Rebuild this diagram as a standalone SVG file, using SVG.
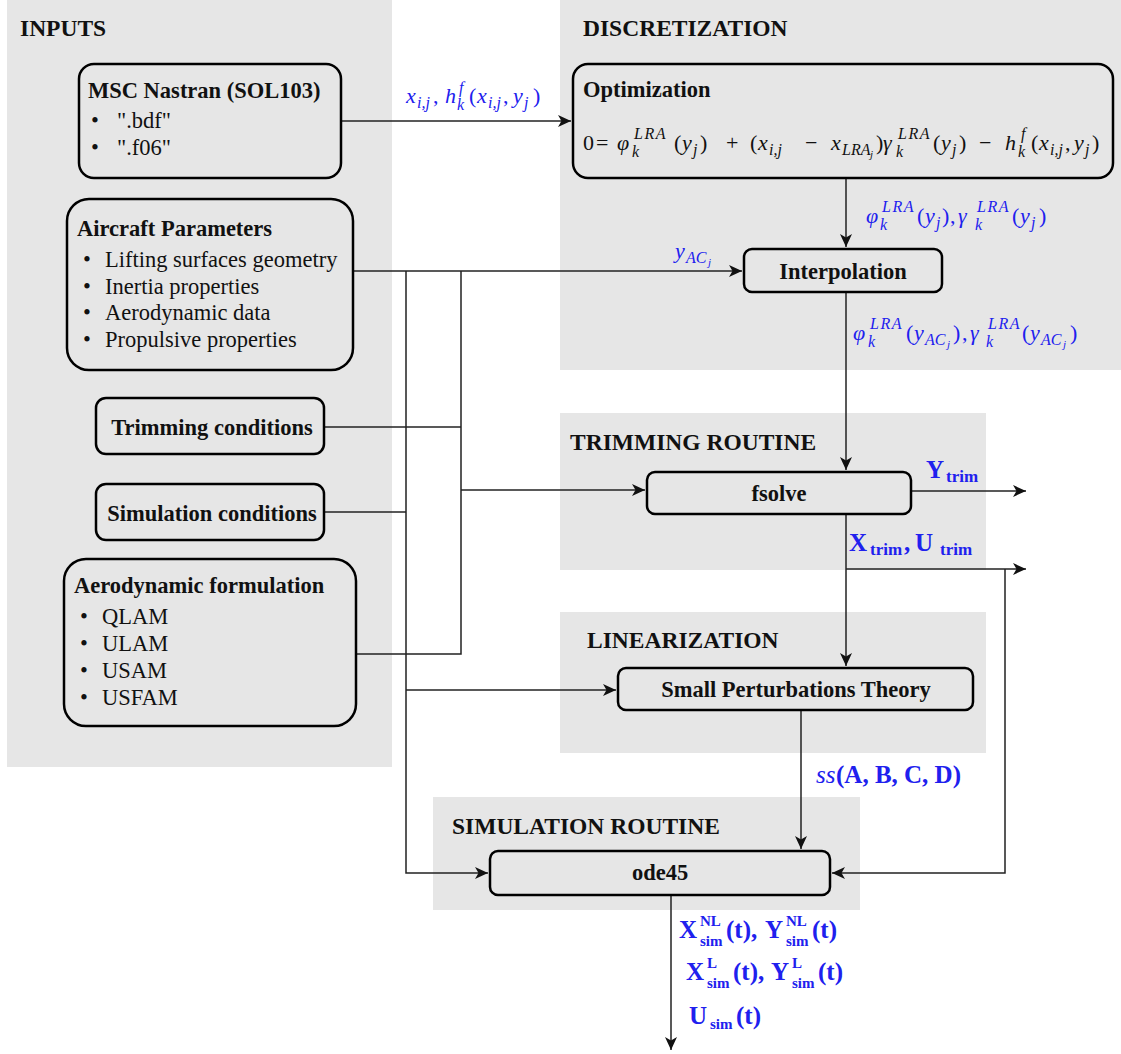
<svg xmlns="http://www.w3.org/2000/svg" width="1121" height="1054" viewBox="0 0 1121 1054">
<style>
.panel{fill:#e6e6e6}
.node{fill:#e6e6e6;stroke:#000;stroke-width:2.5}
.sec{font-family:"Liberation Serif",serif;font-weight:bold;font-size:23.5px;fill:#111}
.t{font-family:"Liberation Serif",serif;font-weight:bold;font-size:22.5px;fill:#111}
.b{font-family:"Liberation Serif",serif;font-size:22.5px;fill:#111}
.m{font-family:"Liberation Serif",serif;font-size:22px;fill:#111}
.bl{fill:#2020ee}
.i{font-style:italic}
.s{font-size:16px}
.ls{letter-spacing:1.5px}
.ss{font-size:11px}
.mb{font-family:"Liberation Serif",serif;font-weight:bold;font-size:25px;fill:#2020ee}
.mbs{font-size:17px}
.mbt{font-size:15px}
.c{fill:none;stroke:#222;stroke-width:1.5}
</style>
<defs>
<marker id="ah" markerUnits="userSpaceOnUse" markerWidth="14" markerHeight="12" refX="13" refY="6" orient="auto">
<path d="M0,0 L13,6 L0,12 L3.5,6 Z" fill="#111"/>
</marker>
</defs>
<g id="panels">
<rect class="panel" x="7" y="0" width="385" height="767"/>
<rect class="panel" x="560" y="0" width="561" height="370"/>
<rect class="panel" x="560" y="413" width="426" height="157"/>
<rect class="panel" x="560" y="612" width="426" height="141"/>
<rect class="panel" x="433" y="797" width="427" height="113"/>
<text class="sec" x="20" y="36">INPUTS</text>
<text class="sec" x="583" y="36">DISCRETIZATION</text>
<text class="sec" x="570" y="450">TRIMMING ROUTINE</text>
<text class="sec" x="587" y="648">LINEARIZATION</text>
<text class="sec" x="452" y="834">SIMULATION ROUTINE</text>
</g>
<g id="connectors">
<path class="c" d="M341,121 H571" marker-end="url(#ah)"/>
<path class="c" d="M846,178 V247" marker-end="url(#ah)"/>
<path class="c" d="M353,271 H742" marker-end="url(#ah)"/>
<path class="c" d="M846,292 V470" marker-end="url(#ah)"/>
<path class="c" d="M911,491 H1026" marker-end="url(#ah)"/>
<path class="c" d="M846,514 V666" marker-end="url(#ah)"/>
<path class="c" d="M846,569 H1026" marker-end="url(#ah)"/>
<path class="c" d="M1005,569 V873 H832" marker-end="url(#ah)"/>
<path class="c" d="M801,710 V849" marker-end="url(#ah)"/>
<path class="c" d="M671,895 V1050" marker-end="url(#ah)"/>
<path class="c" d="M406,271 V873 H488" marker-end="url(#ah)"/>
<path class="c" d="M461,271 V654 H356"/>
<path class="c" d="M324,427 H461"/>
<path class="c" d="M324,512 H406"/>
<path class="c" d="M461,490 H645" marker-end="url(#ah)"/>
<path class="c" d="M406,690 H616" marker-end="url(#ah)"/>
</g>
<g id="edge-labels">
<text class="m bl"><tspan class="i" x="406" y="103">x</tspan><tspan class="i s" x="417" y="108">i,j</tspan><tspan x="433" y="103">,</tspan><tspan class="i" x="445" y="103">h</tspan><tspan class="i s" x="459" y="93">f</tspan><tspan class="i s" x="457" y="110">k</tspan><tspan x="469" y="103">(</tspan><tspan class="i" x="477" y="103">x</tspan><tspan class="i s" x="488" y="108">i,j</tspan><tspan x="503" y="103">,</tspan><tspan class="i" x="513" y="103">y</tspan><tspan class="i s" x="524" y="108">j</tspan><tspan x="533" y="103">)</tspan></text>
<text class="m bl"><tspan class="i" x="866" y="223">φ</tspan><tspan class="i s ls" x="882" y="212">LRA</tspan><tspan class="i s" x="880" y="230">k</tspan><tspan x="917" y="223">(</tspan><tspan class="i" x="925" y="223">y</tspan><tspan class="i s" x="936" y="228">j</tspan><tspan x="942" y="223">)</tspan><tspan x="950" y="223">,</tspan><tspan class="i" x="958" y="223">γ</tspan><tspan class="i s ls" x="977" y="212">LRA</tspan><tspan class="i s" x="975" y="230">k</tspan><tspan x="1012" y="223">(</tspan><tspan class="i" x="1020" y="223">y</tspan><tspan class="i s" x="1031" y="228">j</tspan><tspan x="1039" y="223">)</tspan></text>
<text class="m bl"><tspan class="i" x="675" y="258">y</tspan><tspan class="i s" x="686" y="263">AC</tspan><tspan class="i ss" x="708" y="266">j</tspan></text>
<text class="m bl"><tspan class="i" x="853" y="340">φ</tspan><tspan class="i s ls" x="870" y="329">LRA</tspan><tspan class="i s" x="868" y="347">k</tspan><tspan x="906" y="340">(</tspan><tspan class="i" x="914" y="340">y</tspan><tspan class="i s" x="925" y="345">AC</tspan><tspan class="i ss" x="947" y="348">j</tspan><tspan x="953" y="340">)</tspan><tspan x="962" y="340">,</tspan><tspan class="i" x="970" y="340">γ</tspan><tspan class="i s ls" x="988" y="329">LRA</tspan><tspan class="i s" x="986" y="347">k</tspan><tspan x="1022" y="340">(</tspan><tspan class="i" x="1030" y="340">y</tspan><tspan class="i s" x="1041" y="345">AC</tspan><tspan class="i ss" x="1063" y="348">j</tspan><tspan x="1070" y="340">)</tspan></text>
<text class="mb"><tspan x="926" y="478">Y</tspan><tspan class="mbs" x="946" y="482">trim</tspan></text>
<text class="mb"><tspan x="849" y="551">X</tspan><tspan class="mbs" x="870" y="555">trim</tspan><tspan x="904" y="551">,</tspan><tspan x="915" y="551">U</tspan><tspan class="mbs" x="940" y="555">trim</tspan></text>
<text class="mb"><tspan class="i" x="816" y="783" style="font-weight:normal">ss</tspan><tspan x="836" y="783">(A, B, C, D)</tspan></text>
<text class="mb"><tspan x="679" y="938">X</tspan><tspan class="mbt" x="700" y="926">NL</tspan><tspan class="mbt" x="700" y="946">sim</tspan><tspan x="726" y="938">(t),</tspan><tspan x="765" y="938">Y</tspan><tspan class="mbt" x="786" y="926">NL</tspan><tspan class="mbt" x="786" y="946">sim</tspan><tspan x="812" y="938">(t)</tspan></text>
<text class="mb"><tspan x="686" y="980">X</tspan><tspan class="mbt" x="707" y="968">L</tspan><tspan class="mbt" x="707" y="988">sim</tspan><tspan x="733" y="980">(t),</tspan><tspan x="771" y="980">Y</tspan><tspan class="mbt" x="792" y="968">L</tspan><tspan class="mbt" x="792" y="988">sim</tspan><tspan x="818" y="980">(t)</tspan></text>
<text class="mb"><tspan x="689" y="1024">U</tspan><tspan class="mbt" x="710" y="1029">sim</tspan><tspan x="736" y="1024">(t)</tspan></text>
</g>
<g id="node-nastran">
<rect class="node" x="79" y="64" width="262" height="114" rx="15"/>
<text class="t" x="88" y="98">MSC Nastran (SOL103)</text>
<text class="b" x="91" y="128">•</text><text class="b" x="117" y="128">".bdf"</text>
<text class="b" x="91" y="155">•</text><text class="b" x="117" y="155">".f06"</text>
</g>
<g id="node-aircraft">
<rect class="node" x="67" y="199" width="286" height="171" rx="22"/>
<text class="t" x="77" y="236">Aircraft Parameters</text>
<text class="b" x="83" y="267">•</text><text class="b" x="105" y="267">Lifting surfaces geometry</text>
<text class="b" x="83" y="294">•</text><text class="b" x="105" y="294">Inertia properties</text>
<text class="b" x="83" y="320">•</text><text class="b" x="105" y="320">Aerodynamic data</text>
<text class="b" x="83" y="347">•</text><text class="b" x="105" y="347">Propulsive properties</text>
</g>
<g id="node-trimming-conditions">
<rect class="node" x="96" y="398" width="228" height="56" rx="10"/>
<text class="t" x="212" y="435" text-anchor="middle">Trimming conditions</text>
</g>
<g id="node-simulation-conditions">
<rect class="node" x="96" y="484" width="228" height="56" rx="10"/>
<text class="t" x="212" y="521" text-anchor="middle">Simulation conditions</text>
</g>
<g id="node-aero-formulation">
<rect class="node" x="64" y="559" width="292" height="167" rx="22"/>
<text class="t" x="74" y="593">Aerodynamic formulation</text>
<text class="b" x="80" y="624">•</text><text class="b" x="102" y="624">QLAM</text>
<text class="b" x="80" y="651">•</text><text class="b" x="102" y="651">ULAM</text>
<text class="b" x="80" y="678">•</text><text class="b" x="102" y="678">USAM</text>
<text class="b" x="80" y="705">•</text><text class="b" x="102" y="705">USFAM</text>
</g>
<g id="node-optimization">
<rect class="node" x="573" y="64" width="540" height="114" rx="15"/>
<text class="t" x="583" y="97">Optimization</text>
<text class="m"><tspan x="583" y="150">0</tspan><tspan x="596" y="150">=</tspan><tspan class="i" x="617" y="150">φ</tspan><tspan class="i s ls" x="634" y="139">LRA</tspan><tspan class="i s" x="632" y="157">k</tspan><tspan x="674" y="150">(</tspan><tspan class="i" x="682" y="150">y</tspan><tspan class="i s" x="693" y="155">j</tspan><tspan x="700" y="150">)</tspan><tspan x="726" y="150">+</tspan><tspan x="750" y="150">(</tspan><tspan class="i" x="758" y="150">x</tspan><tspan class="i s" x="769" y="155">i,j</tspan><tspan x="805" y="150">−</tspan><tspan class="i" x="831" y="150">x</tspan><tspan class="i s" x="842" y="155">LRA</tspan><tspan class="i ss" x="870" y="158">j</tspan><tspan x="876" y="150">)</tspan><tspan class="i" x="883" y="150">γ</tspan><tspan class="i s ls" x="898" y="139">LRA</tspan><tspan class="i s" x="896" y="157">k</tspan><tspan x="933" y="150">(</tspan><tspan class="i" x="941" y="150">y</tspan><tspan class="i s" x="952" y="155">j</tspan><tspan x="959" y="150">)</tspan><tspan x="979" y="150">−</tspan><tspan class="i" x="1005" y="150">h</tspan><tspan class="i s" x="1021" y="139">f</tspan><tspan class="i s" x="1018" y="157">k</tspan><tspan x="1031" y="150">(</tspan><tspan class="i" x="1039" y="150">x</tspan><tspan class="i s" x="1050" y="155">i,j</tspan><tspan x="1065" y="150">,</tspan><tspan class="i" x="1074" y="150">y</tspan><tspan class="i s" x="1085" y="155">j</tspan><tspan x="1092" y="150">)</tspan></text>
</g>
<g id="node-interpolation">
<rect class="node" x="744" y="249" width="198" height="43" rx="8"/>
<text class="t" x="843" y="279" text-anchor="middle">Interpolation</text>
</g>
<g id="node-fsolve">
<rect class="node" x="647" y="472" width="264" height="42" rx="8"/>
<text class="t" x="779" y="501" text-anchor="middle">fsolve</text>
</g>
<g id="node-spt">
<rect class="node" x="618" y="668" width="355" height="42" rx="8"/>
<text class="t" x="796" y="697" text-anchor="middle">Small Perturbations Theory</text>
</g>
<g id="node-ode45">
<rect class="node" x="490" y="851" width="340" height="44" rx="8"/>
<text class="t" x="660" y="880" text-anchor="middle">ode45</text>
</g>
</svg>
